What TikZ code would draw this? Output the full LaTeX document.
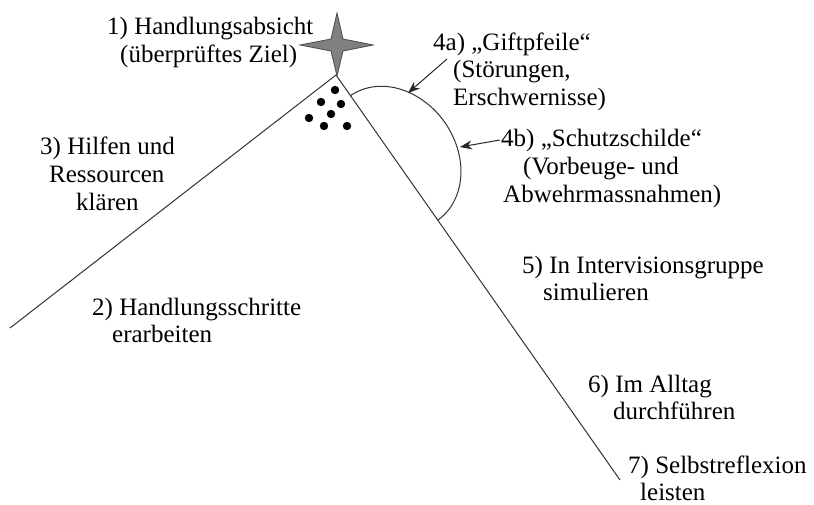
\documentclass[tikz,border=0pt]{standalone}
\usepackage{fontspec}
\setmainfont{Liberation Serif}
\usetikzlibrary{arrows.meta,calc}
\begin{document}
\begin{tikzpicture}[x=1pt,y=-1pt,
  lbl/.style={anchor=base west,inner sep=0pt,font=\fontsize{25}{28}\selectfont,text=black},
  edge/.style={draw=black!80,line width=1pt},
  pfeil/.style={draw=black!85,line width=1pt,-{Stealth[length=12pt,width=9pt]}},
  dot/.style={fill=black},
  starstyle/.style={fill=black!50,draw=black!70,line width=0.8pt}]
\useasboundingbox (0,0) rectangle (814,505);
% main lines
\coordinate (apex) at (336,75);
\coordinate (lend) at (10,328);
\coordinate (rend) at (620,480);
\draw[edge] (lend) -- (apex) -- (rend);
% star
\coordinate (sc) at (337,45);
\draw[starstyle] ($(sc)+(0,-32)$) -- ($(sc)+(6,-6)$) -- ($(sc)+(36,0)$) -- ($(sc)+(6,6)$)
  -- ($(sc)+(0,31)$) -- ($(sc)+(-6,6)$) -- ($(sc)+(-37,0)$) -- ($(sc)+(-6,-6)$) -- cycle;
% dots
\foreach \p in {(335,90),(321,102),(341,104),(331,114),(309,118),(324,126),(347,126)}
  \fill[dot] \p circle (4.2);
% shield arc (half ellipse along right line)
\draw[edge] plot[domain=180:0,samples=80,smooth,variable=\t]
  ({394+76*cos(\t)*0.574+62*sin(\t)*0.819},{158+76*cos(\t)*0.819-62*sin(\t)*0.574});
% arrows
\coordinate (a4s) at (447,59);
\coordinate (a4e) at (408,93);
\coordinate (b4s) at (500,140);
\coordinate (b4e) at (460,147);
\draw[pfeil] (a4s) -- (a4e);
\draw[pfeil] (b4s) -- (b4e);
% labels
\node[lbl] (t1a) at (107,35) {1) Handlungsabsicht};
\node[lbl] (t1b) at (120,63) {(überprüftes Ziel)};
\node[lbl] (t3a) at (40,155) {3) Hilfen und};
\node[lbl] (t3b) at (49,183) {Ressourcen};
\node[lbl] (t3c) at (76,211) {klären};
\node[lbl] (t2a) at (92,315) {2) Handlungsschritte};
\node[lbl] (t2b) at (112,342) {erarbeiten};
\node[lbl] (t4aa) at (433,51) {4a) „Giftpfeile“};
\node[lbl] (t4ab) at (453,78) {(Störungen,};
\node[lbl] (t4ac) at (453,106) {Erschwernisse)};
\node[lbl] (t4ba) at (501,147) {4b) „Schutzschilde“};
\node[lbl] (t4bb) at (523,175) {(Vorbeuge- und};
\node[lbl] (t4bc) at (503,203) {Abwehrmassnahmen)};
\node[lbl] (t5a) at (522,273) {5) In Intervisionsgruppe};
\node[lbl] (t5b) at (543,300) {simulieren};
\node[lbl] (t6a) at (588,392) {6) Im Alltag};
\node[lbl] (t6b) at (613,419) {durchführen};
\node[lbl] (t7a) at (628,473) {7) Selbstreflexion};
\node[lbl] (t7b) at (640,500) {leisten};
\end{tikzpicture}
\end{document}
